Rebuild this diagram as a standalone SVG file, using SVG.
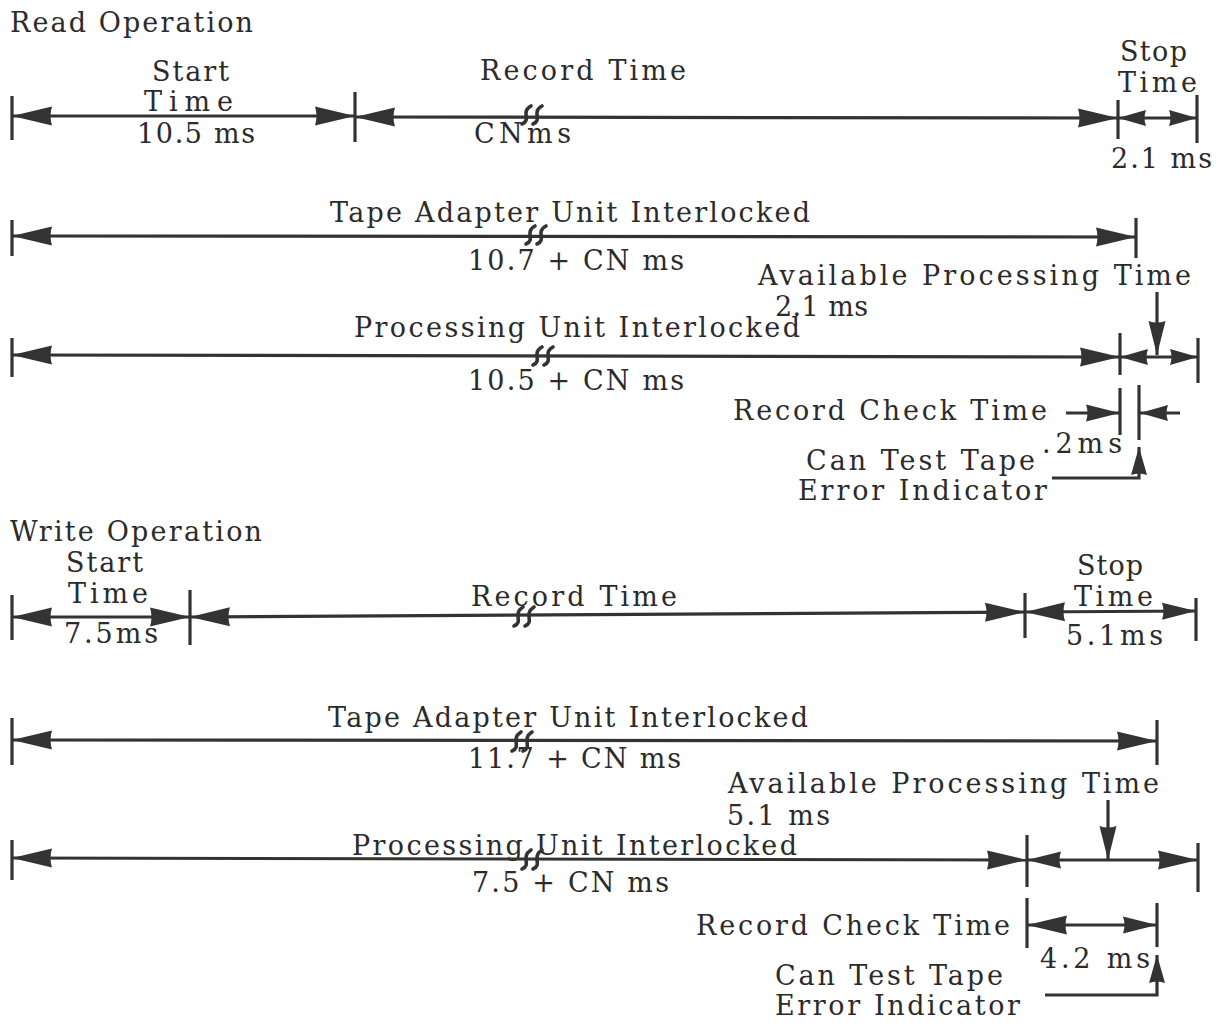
<svg xmlns="http://www.w3.org/2000/svg" width="1227" height="1025" viewBox="0 0 1227 1025">
<defs>
<style>
.t{font-family:"DejaVu Serif","Liberation Serif",serif;font-size:27px;fill:#2b2b2b;}
.ln{stroke:#333;stroke-width:3.2;fill:none;}
.tk{stroke:#333;stroke-width:3.2;fill:none;}
.bk{stroke:#333;stroke-width:3.6;fill:none;stroke-linecap:round;}
.a40{marker-start:url(#a40);marker-end:url(#a40);}
</style>
<marker id="a40" viewBox="-42 -11 44 22" refX="0" refY="0" markerWidth="44" markerHeight="22" markerUnits="userSpaceOnUse" orient="auto-start-reverse"><path d="M0,0 L-40,-9.5 Q-37,0 -40,9.5 Z" fill="#333"/></marker>
<marker id="a34" viewBox="-36 -10 38 20" refX="0" refY="0" markerWidth="38" markerHeight="20" markerUnits="userSpaceOnUse" orient="auto-start-reverse"><path d="M0,0 L-34,-8.5 Q-31,0 -34,8.5 Z" fill="#333"/></marker>
<marker id="a28" viewBox="-30 -10 32 20" refX="0" refY="0" markerWidth="32" markerHeight="20" markerUnits="userSpaceOnUse" orient="auto-start-reverse"><path d="M0,0 L-28,-8 Q-25,0 -28,8 Z" fill="#333"/></marker>
</defs>
<rect width="1227" height="1025" fill="#ffffff"/>

<g id="labels">
<text class="t" x="10" y="32" textLength="243">Read Operation</text>
<text class="t" x="152" y="81" textLength="77">Start</text>
<text class="t" x="144" y="111" textLength="89">Time</text>
<text class="t" x="137" y="143" textLength="118">10.5 ms</text>
<text class="t" x="480" y="80" textLength="206">Record Time</text>
<text class="t" x="474" y="143" textLength="97">CNms</text>
<text class="t" x="1120" y="61" textLength="67">Stop</text>
<text class="t" x="1118" y="92" textLength="79">Time</text>
<text class="t" x="1111" y="168" textLength="101">2.1 ms</text>
<text class="t" x="330" y="222" textLength="480">Tape Adapter Unit Interlocked</text>
<text class="t" x="468" y="270" textLength="216">10.7 + CN ms</text>
<text class="t" x="758" y="285" textLength="433">Available Processing Time</text>
<text class="t" x="775" y="316" textLength="93">2.1 ms</text>
<text class="t" x="354" y="337" textLength="446">Processing Unit Interlocked</text>
<text class="t" x="468" y="390" textLength="216">10.5 + CN ms</text>
<text class="t" x="733" y="420" textLength="314">Record Check Time</text>
<text class="t" x="1042" y="453" textLength="80">.2ms</text>
<text class="t" x="806" y="470" textLength="229">Can Test Tape</text>
<text class="t" x="798" y="500" textLength="249">Error Indicator</text>

<text class="t" x="10" y="541" textLength="252">Write Operation</text>
<text class="t" x="66" y="572" textLength="77">Start</text>
<text class="t" x="68" y="603" textLength="80">Time</text>
<text class="t" x="64" y="643" textLength="94">7.5ms</text>
<text class="t" x="471" y="606" textLength="206">Record Time</text>
<text class="t" x="1077" y="575" textLength="66">Stop</text>
<text class="t" x="1074" y="606" textLength="79">Time</text>
<text class="t" x="1066" y="645" textLength="97">5.1ms</text>
<text class="t" x="328" y="727" textLength="480">Tape Adapter Unit Interlocked</text>
<text class="t" x="468" y="768" textLength="213">11.7 + CN ms</text>
<text class="t" x="728" y="793" textLength="431">Available Processing Time</text>
<text class="t" x="727" y="825" textLength="103">5.1 ms</text>
<text class="t" x="352" y="855" textLength="445">Processing Unit Interlocked</text>
<text class="t" x="472" y="892" textLength="197">7.5 + CN ms</text>
<text class="t" x="696" y="935" textLength="314">Record Check Time</text>
<text class="t" x="1040" y="968" textLength="110">4.2 ms</text>
<text class="t" x="775" y="985" textLength="228">Can Test Tape</text>
<text class="t" x="775" y="1015" textLength="245">Error Indicator</text>
</g>

<g id="connectors">
<!-- Read: line 1 -->
<line class="tk" x1="12" y1="96" x2="12" y2="140"/>
<line class="tk" x1="355" y1="92" x2="355" y2="142"/>
<line class="tk" x1="1118" y1="100" x2="1118" y2="139"/>
<line class="tk" x1="1197" y1="95" x2="1197" y2="143"/>
<line class="ln a40" x1="12" y1="116" x2="355" y2="116"/>
<line class="ln a40" x1="355" y1="117" x2="1118" y2="118"/>
<line class="ln" x1="1118" y1="118" x2="1197" y2="118" marker-start="url(#a28)" marker-end="url(#a28)"/>
<!-- Read: line 2 -->
<line class="tk" x1="12" y1="220" x2="12" y2="256"/>
<line class="tk" x1="1136" y1="218" x2="1136" y2="258"/>
<line class="ln a40" x1="12" y1="236" x2="1136" y2="237"/>
<!-- Read: line 3 -->
<line class="tk" x1="12" y1="338" x2="12" y2="377"/>
<line class="tk" x1="1120" y1="333" x2="1120" y2="375"/>
<line class="tk" x1="1198" y1="338" x2="1198" y2="383"/>
<line class="ln a40" x1="12" y1="355" x2="1120" y2="357"/>
<line class="ln" x1="1120" y1="357" x2="1198" y2="357" marker-start="url(#a28)" marker-end="url(#a28)"/>
<line class="ln" x1="1157" y1="292" x2="1157" y2="355" marker-end="url(#a34)"/>
<!-- Read: record check -->
<line class="tk" x1="1120" y1="388" x2="1120" y2="435"/>
<line class="tk" x1="1139" y1="385" x2="1139" y2="440"/>
<line class="ln" x1="1066" y1="413" x2="1120" y2="413" marker-end="url(#a34)"/>
<line class="ln" x1="1180" y1="413" x2="1140" y2="413" marker-end="url(#a28)"/>
<polyline class="ln" points="1052,478 1139,478 1139,447" marker-end="url(#a28)"/>

<!-- Write: line 4 -->
<line class="tk" x1="12" y1="595" x2="12" y2="640"/>
<line class="tk" x1="190" y1="590" x2="190" y2="645"/>
<line class="tk" x1="1025" y1="593" x2="1025" y2="638"/>
<line class="tk" x1="1196" y1="598" x2="1196" y2="641"/>
<line class="ln a40" x1="12" y1="617" x2="190" y2="617"/>
<line class="ln a40" x1="190" y1="617" x2="1025" y2="612"/>
<line class="ln" x1="1025" y1="612" x2="1196" y2="611" marker-start="url(#a40)" marker-end="url(#a34)"/>
<!-- Write: line 5 -->
<line class="tk" x1="12" y1="718" x2="12" y2="765"/>
<line class="tk" x1="1157" y1="720" x2="1157" y2="765"/>
<line class="ln a40" x1="12" y1="740" x2="1157" y2="741"/>
<!-- Write: line 6 -->
<line class="tk" x1="12" y1="840" x2="12" y2="880"/>
<line class="tk" x1="1027" y1="835" x2="1027" y2="887"/>
<line class="tk" x1="1198" y1="843" x2="1198" y2="892"/>
<line class="ln a40" x1="12" y1="858" x2="1027" y2="860"/>
<line class="ln" x1="1027" y1="860" x2="1198" y2="860" marker-start="url(#a34)" marker-end="url(#a40)"/>
<line class="ln" x1="1108" y1="800" x2="1108" y2="860" marker-end="url(#a34)"/>
<!-- Write: record check -->
<line class="tk" x1="1027" y1="898" x2="1027" y2="948"/>
<line class="tk" x1="1157" y1="903" x2="1157" y2="947"/>
<line class="ln" x1="1027" y1="925" x2="1157" y2="925" marker-start="url(#a40)" marker-end="url(#a34)"/>
<polyline class="ln" points="1045,995 1157,995 1157,955" marker-end="url(#a28)"/>

<!-- break marks -->
<path class="bk" d="M522,124 C532,120 520,112 531,106 M533,124 C543,120 531,112 542,106"/>
<path class="bk" d="M526,244 C536,240 524,232 535,226 M537,244 C547,240 535,232 546,226"/>
<path class="bk" d="M533,365 C543,361 531,353 542,347 M544,365 C554,361 542,353 553,347"/>
<path class="bk" d="M514,626 C524,622 512,614 523,607 M525,626 C535,622 523,614 534,607"/>
<path class="bk" d="M512,751 C522,747 510,739 521,732 M523,751 C533,747 521,739 532,732"/>
<path class="bk" d="M522,869 C532,865 520,857 531,850 M533,869 C543,865 531,857 542,850"/>
</g>
</svg>
